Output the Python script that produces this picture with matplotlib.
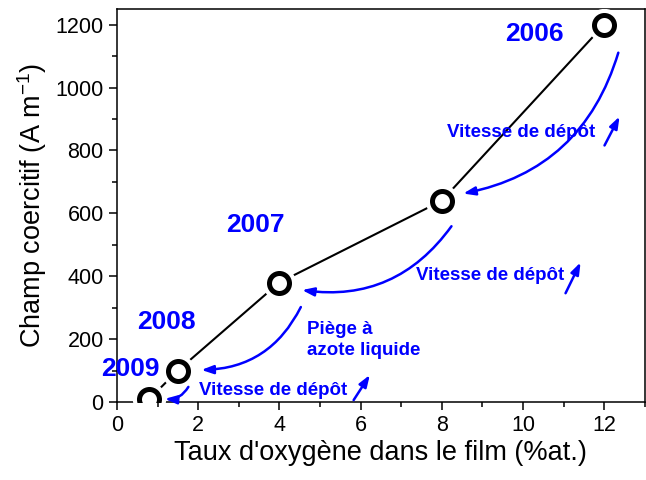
import matplotlib

matplotlib.use("Agg")
import matplotlib.pyplot as plt
from matplotlib.ticker import MultipleLocator

plt.rcParams["font.family"] = ["Liberation Sans", "DejaVu Sans"]
plt.rcParams["mathtext.default"] = "regular"

BLUE = "#0000ff"

# data
oxygen = [0.8, 1.5, 4.0, 8.0, 12.0]
coercive = [10, 100, 380, 640, 1200]
years = ["2009", "2008", "2007", "2006"]
year_pos = [(0.32, 105), (1.23, 254), (3.41, 562), (10.29, 1171)]

vitesse_pos = [(9.95, 857), (9.2, 403), (3.85, 35)]
# (tail, head, rad) of curved arrows
curved_arrows = [
    ((12.35, 1111), (8.53, 663), -0.3),
    ((8.24, 559), (4.56, 356), -0.3),
    ((4.53, 302), (2.08, 102), -0.3),
    ((1.76, 48), (1.18, 10), -0.3),
]
small_arrows = [
    ((12.01, 816), (12.38, 908)),
    ((11.05, 346), (11.42, 444)),
    ((5.83, 6), (6.23, 86)),
]

fig = plt.figure(figsize=(6.46, 4.8), dpi=100)
ax = fig.add_axes([0.181, 0.1625, 0.817, 0.81875])

ax.plot(oxygen, coercive, color="black", lw=1.5, zorder=2)
# white halo gives the gap between line and marker
ax.plot(oxygen, coercive, ls="none", marker="o", ms=21, mfc="white",
        mec="white", mew=3, zorder=3)
ax.plot(oxygen, coercive, ls="none", marker="o", ms=14.4, mfc="white",
        mec="black", mew=3.6, zorder=4)

for text, (x, y) in zip(years, year_pos):
    ax.text(x, y, text, color=BLUE, fontsize=19, fontweight="bold",
            ha="center", va="center", zorder=5)

for x, y in vitesse_pos:
    ax.text(x, y, "Vitesse de dépôt", color=BLUE, fontsize=13.5,
            fontweight="bold", ha="center", va="center", zorder=5)

ax.text(4.68, 197, "Piège à\nazote liquide", color=BLUE, fontsize=13.5,
        fontweight="bold", ha="left", va="center", linespacing=1.25, zorder=5)

for tail, head, rad in curved_arrows:
    ax.annotate("", xy=head, xytext=tail,
                arrowprops=dict(arrowstyle="-|>,head_length=0.7,head_width=0.25",
                                color=BLUE, lw=1.8, shrinkA=0, shrinkB=0,
                                connectionstyle=f"arc3,rad={rad}"),
                zorder=5)

for tail, head in small_arrows:
    ax.annotate("", xy=head, xytext=tail,
                arrowprops=dict(arrowstyle="-|>,head_length=0.7,head_width=0.25",
                                color=BLUE, lw=1.8, shrinkA=0, shrinkB=0),
                zorder=5)

ax.set_xlim(0, 13)
ax.set_ylim(0, 1250)
ax.xaxis.set_major_locator(MultipleLocator(2))
ax.xaxis.set_minor_locator(MultipleLocator(1))
ax.yaxis.set_major_locator(MultipleLocator(200))
ax.yaxis.set_minor_locator(MultipleLocator(100))
ax.tick_params(which="major", direction="out", length=6, width=1.1,
               labelsize=15.5)
ax.tick_params(which="minor", direction="out", length=3.5, width=1.1)
for spine in ax.spines.values():
    spine.set_linewidth(1.1)

ax.set_xlabel("Taux d'oxygène dans le film (%at.)", fontsize=19.5, labelpad=3)
ax.set_ylabel("Champ coercitif (A m$^{-1}$)", fontsize=19.5, labelpad=5)

fig.savefig("out.png", dpi=100)
